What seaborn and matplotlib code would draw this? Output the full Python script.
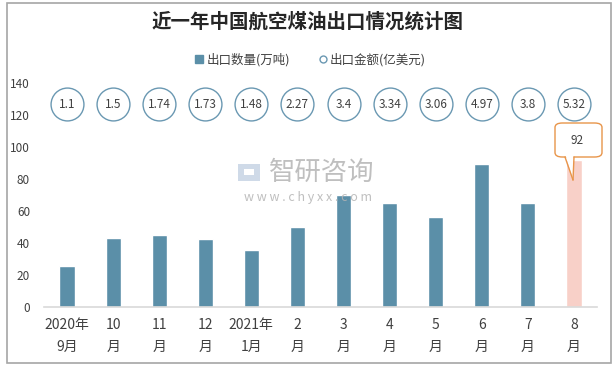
import matplotlib
matplotlib.use("Agg")
import matplotlib.pyplot as plt
import seaborn as sns
import pandas as pd
from matplotlib.patches import FancyBboxPatch, Polygon, Rectangle
from matplotlib.lines import Line2D

sns.set_theme(style="white")
plt.rcParams['font.family'] = ['Noto Sans CJK SC', 'DejaVu Sans']

categories = ["2020年\n9月", "10\n月", "11\n月", "12\n月", "2021年\n1月", "2\n月",
              "3\n月", "4\n月", "5\n月", "6\n月", "7\n月", "8\n月"]
volume = [25.8, 43.3, 45.2, 42.7, 35.8, 50.2, 70, 65.2, 56.4, 89.6, 65.2, 92]
amount = [1.1, 1.5, 1.74, 1.73, 1.48, 2.27, 3.4, 3.34, 3.06, 4.97, 3.8, 5.32]
yticks = [0, 20, 40, 60, 80, 100, 120, 140]

bar_color = "#5b8fa8"
last_color = "#f8d0c8"
circle_edge = "#6a98b2"
text_color = "#404040"

W, H = 616, 368
fig = plt.figure(figsize=(W / 100, H / 100), dpi=100)
ax = fig.add_axes([44 / W, 1 - 307.3 / H, (597 - 44) / W, (307.3 - 83.3) / H])

df = pd.DataFrame({"cat": categories, "vol": volume})
colors = [bar_color] * (len(categories) - 1) + [last_color]
sns.barplot(data=df, x="cat", y="vol", hue="cat", palette=colors, legend=False,
            width=0.33, ax=ax, saturation=1)

ax.set_ylim(0, 140)
ax.set_xlim(-0.5, len(categories) - 0.5)
ax.set_yticks(yticks)
ax.set_yticklabels([str(t) for t in yticks], fontsize=8.5, color=text_color)
ax.tick_params(axis="y", length=0, pad=10)
ax.tick_params(axis="x", length=0, pad=8, labelsize=10, labelcolor=text_color)
for lab in ax.get_xticklabels():
    lab.set_linespacing(1.7)
ax.set_xlabel("")
ax.set_ylabel("")
for s in ["left", "right", "top"]:
    ax.spines[s].set_visible(False)
ax.spines["bottom"].set_color("#d9d9d9")
ax.spines["bottom"].set_linewidth(1.2)

# circles for amount
xs = list(range(len(categories)))
ax.scatter(xs, [127] * len(xs), s=560, facecolor="white", edgecolor=circle_edge,
           linewidth=1.0, zorder=5, clip_on=False)
for x, a in zip(xs, amount):
    ax.text(x, 127, f"{a:g}", ha="center", va="center", fontsize=8.5,
            color=text_color, zorder=6)

# title
fig.text(308 / W, 1 - 22 / H, "近一年中国航空煤油出口情况统计图", ha="center", va="center",
         fontsize=14, fontweight="bold", color="#262626")

# legend
handles = [Line2D([], [], marker="s", linestyle="none", markersize=6,
                  markerfacecolor=bar_color, markeredgecolor=bar_color),
           Line2D([], [], marker="o", linestyle="none", markersize=5,
                  markerfacecolor="white", markeredgecolor=circle_edge)]
fig.legend(handles, ["出口数量(万吨)", "出口金额(亿美元)"], loc="center",
           bbox_to_anchor=(310 / W, 1 - 60 / H), ncol=2, frameon=False,
           fontsize=9, handletextpad=0.2, columnspacing=2.2,
           labelcolor=text_color, handlelength=0.8)

def fx(px):
    return px / W

def fy(py):
    return 1 - py / H

# watermark
fig.text(fx(322), fy(172.5), "智研咨询", ha="center", va="center", fontsize=19,
         color="#b4b4b4", alpha=0.85)
fig.text(fx(308), fy(198), "w w w . c h y x x . c o m", ha="center", va="center",
         fontsize=9, color="#b4b4b4", alpha=0.85)
fig.patches.append(Rectangle((fx(238), fy(181)), 22 / W, 17 / H, transform=fig.transFigure,
                             fc="#c7d4e4", ec="none", alpha=0.85))
fig.patches.append(Rectangle((fx(244), fy(175)), 10 / W, 6 / H, transform=fig.transFigure,
                             fc="white", ec="none"))

# callout for the last bar
box = FancyBboxPatch((fx(555), fy(157)), fx(602) - fx(555), fy(123) - fy(157),
                     boxstyle="round,pad=0,rounding_size=0.012", transform=fig.transFigure,
                     fc="white", ec="#e8954a", lw=1.0, zorder=10)
fig.patches.append(box)
tri = Polygon([(fx(565.5), fy(155)), (fx(573.5), fy(155)), (fx(573), fy(180))],
              closed=True, transform=fig.transFigure, fc="white", ec="none", zorder=11)
fig.patches.append(tri)
fig.lines.append(Line2D([fx(565), fx(573)], [fy(157), fy(180)], transform=fig.transFigure,
                        color="#e8954a", lw=1.0, zorder=12))
fig.lines.append(Line2D([fx(574), fx(573)], [fy(157), fy(180)], transform=fig.transFigure,
                        color="#e8954a", lw=1.0, zorder=12))
fig.text(fx(577), fy(140), f"{volume[-1]:g}", ha="center", va="center", fontsize=8.5,
         color=text_color, zorder=13)

# outer frame
fig.patches.append(Rectangle((fx(6.5), fy(363)), fx(611) - fx(6.5), fy(3) - fy(363),
                             transform=fig.transFigure, fc="none", ec="#a6a6a6", lw=1.2))

fig.savefig("out.png", dpi=100)
